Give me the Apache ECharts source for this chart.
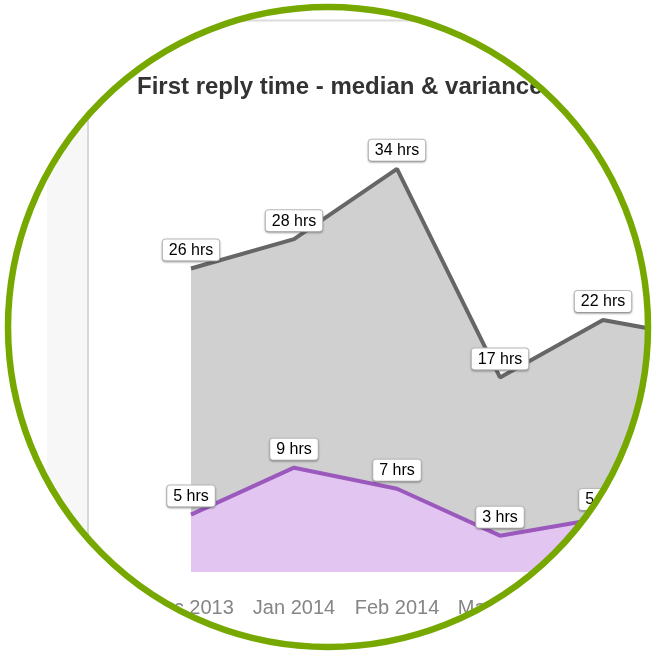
<!DOCTYPE html>
<html>
<head>
<meta charset="utf-8">
<script src="https://cdn.jsdelivr.net/npm/echarts@6/dist/echarts.min.js"></script>
<style>
html,body{margin:0;padding:0;background:#fff;}
#chart{width:657px;height:655px;}
</style>
</head>
<body>
<div id="chart"></div>
<script>
const titleText = 'First reply time - median & variance';
const categories = ['Dec 2013', 'Jan 2014', 'Feb 2014', 'Mar 2014', 'Apr 2014', 'May 2014'];
const varianceHrs = [25.9, 28.4, 34.4, 16.6, 21.5, 19.9];
const medianHrs = [4.9, 8.9, 7.1, 3.1, 4.6, 4.0];

const chart = echarts.init(document.getElementById('chart'), null, {renderer: 'canvas'});

const labelStyle = {
  show: true,
  position: 'top',
  distance: 8,
  formatter: p => Math.round(p.value) + ' hrs',
  fontFamily: 'Liberation Sans, Arial, sans-serif',
  fontSize: 16,
  color: '#000',
  backgroundColor: '#fff',
  borderColor: '#bdbdbd',
  borderWidth: 1,
  borderRadius: 3,
  padding: [3, 6, 2, 6],
  shadowColor: 'rgba(0,0,0,0.25)',
  shadowBlur: 2,
  shadowOffsetY: 1
};

const CX = 328, CY = 327, R = 320;

chart.setOption({
  animation: false,
  backgroundColor: '#fff',
  title: {
    text: titleText,
    left: 137,
    top: 75,
    padding: 0,
    textStyle: {
      fontFamily: 'Liberation Sans, Arial, sans-serif',
      fontWeight: 'bold',
      fontSize: 24,
      color: '#333'
    }
  },
  grid: {left: 191, top: 103.2, width: 515, height: 468.8, outerBoundsMode: 'none', containLabel: false},
  xAxis: {
    type: 'category',
    data: categories,
    boundaryGap: false,
    axisLine: {show: false},
    axisTick: {show: false},
    splitLine: {show: false},
    axisLabel: {
      margin: 26,
      fontFamily: 'Liberation Sans, Arial, sans-serif',
      fontSize: 20,
      color: '#858585',
      interval: 0
    }
  },
  yAxis: {
    type: 'value',
    min: 0,
    max: 40,
    show: false,
    splitLine: {show: false}
  },
  series: [
    {
      name: 'variance',
      type: 'line',
      data: varianceHrs,
      symbol: 'circle',
      symbolSize: 0,
      showSymbol: true,
      lineStyle: {color: '#666666', width: 4},
      itemStyle: {color: '#666666'},
      areaStyle: {color: '#d0d0d0', opacity: 1, origin: 'start'},
      label: labelStyle,
      z: 2
    },
    {
      name: 'median',
      type: 'line',
      data: medianHrs,
      symbol: 'circle',
      symbolSize: 0,
      showSymbol: true,
      lineStyle: {color: '#9b59be', width: 4},
      itemStyle: {color: '#9b59be'},
      areaStyle: {color: '#e2c6f1', opacity: 1, origin: 'start'},
      label: labelStyle,
      z: 3
    }
  ],
  graphic: [
    {
      type: 'rect', z: -10, silent: true,
      shape: {x: 47, y: 0, width: 41, height: 655},
      style: {fill: '#f7f7f7'}
    },
    {
      type: 'line', z: -9, silent: true,
      shape: {x1: 88, y1: 20, x2: 88, y2: 655},
      style: {stroke: '#d8d8d8', lineWidth: 2}
    },
    {
      type: 'line', z: -9, silent: true,
      shape: {x1: 88, y1: 20.5, x2: 657, y2: 20.5},
      style: {stroke: '#dcdcdc', lineWidth: 2}
    },
    {
      type: 'ring', z: 100, silent: true,
      shape: {cx: CX, cy: CY, r: 700, r0: R},
      style: {fill: '#ffffff'}
    },
    {
      type: 'circle', z: 101, silent: true,
      shape: {cx: CX, cy: CY, r: R},
      style: {fill: 'none', stroke: '#76a800', lineWidth: 6.5}
    }
  ]
});
</script>
</body>
</html>
